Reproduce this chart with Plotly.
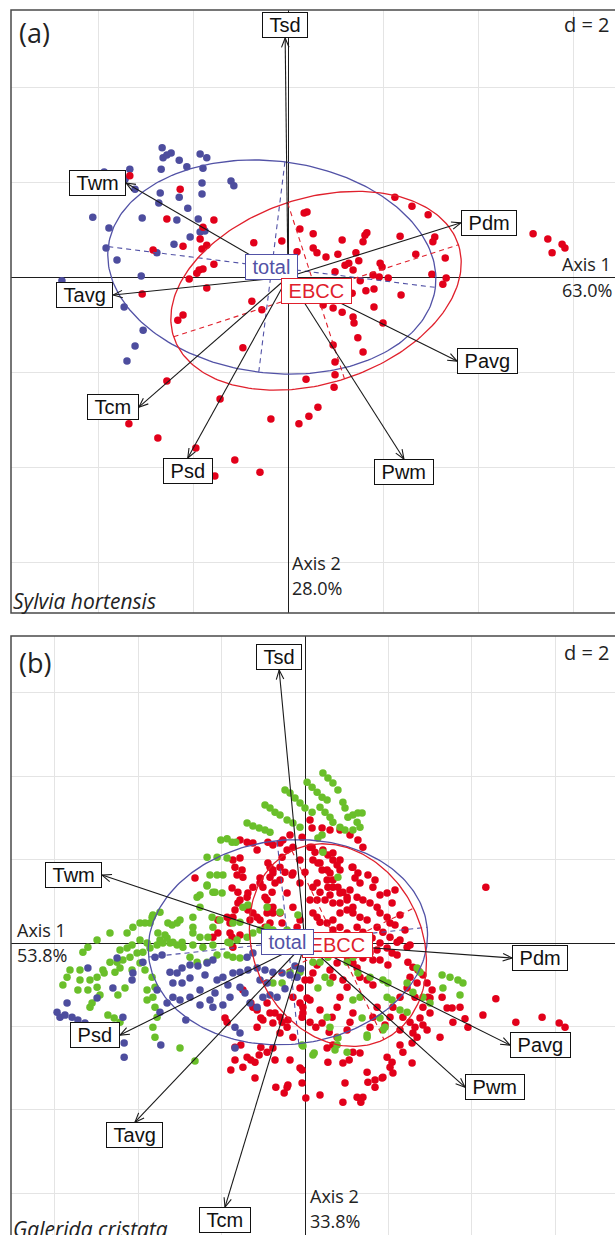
import numpy as np
import plotly.graph_objects as go

W, H = 615, 1235

# ---------------- DATA ----------------
VARIABLES = ["Tsd", "Twm", "Tavg", "Tcm", "Psd", "Pwm", "Pavg", "Pdm"]

# panel (a) Sylvia hortensis : arrow tips (Axis1, Axis2)
A_ARROW_X = [-0.06, -3.41, -3.68, -3.14, -2.11, 2.44, 3.56, 3.64]
A_ARROW_Y = [5.03, 1.98, -0.38, -2.74, -3.81, -3.83, -1.77, 1.14]
# panel (b) Galerida cristata
B_ARROW_X = [-0.62, -4.87, -4.08, -1.92, -4.44, 3.84, 4.92, 4.97]
B_ARROW_Y = [6.55, 1.63, -4.30, -6.34, -2.21, -3.46, -2.45, -0.36]

CLASSES = ["total", "EBCC"]
A_ELL_CX = [-0.34, 0.59]
A_ELL_CY = [0.21, -0.29]
A_ELL_A = [3.47, 3.15]
A_ELL_B = [2.23, 1.95]
A_ELL_ANGLE = [-7.1, 17.9]
B_ELL_CX = [-0.41, 0.79]
B_ELL_CY = [0.02, -0.05]
B_ELL_A = [3.36, 2.52]
B_ELL_B = [2.45, 2.02]
B_ELL_ANGLE = [6.1, -64.0]

A_INERTIA = ["63.0%", "28.0%"]
B_INERTIA = ["53.8%", "33.8%"]
SPECIES = ["Sylvia hortensis", "Galerida cristata"]

A_BLUE = [(-2.65,2.72),(-2.63,2.51),(-2.55,2.57),(-2.46,2.61),(-2.29,2.46),(-1.85,2.59),(-1.71,2.51),
          (-2.67,2.27),(-2.13,2.32),(-1.79,2.29),(-3.33,2.27),(-3.87,2.21),(-3.43,2.06),(-3.22,1.85),
          (-1.81,1.98),(-1.20,2.02),(-1.14,1.92),(-2.69,1.77),(-2.29,1.68),(-1.81,1.75),(-2.72,1.56),
          (-2.11,1.45),(-4.11,1.26),(-3.07,1.24),(-2.34,1.20),(-1.89,1.22),(-3.77,1.03),(-1.85,0.95),
          (-1.75,0.97),(-2.06,0.84),(-2.40,0.69),(-3.83,0.61),(-2.76,0.51),(-3.60,0.36),(-3.09,0.02),
          (-4.76,-0.08),(-3.45,-0.63),(-3.05,-1.12),(-3.22,-1.45),(-3.39,-1.77)]

A_RED = [(-3.33,2.13),(-2.27,1.85),(-2.55,1.22),(-1.56,1.20),(-1.79,1.05),(-1.85,0.80),(-2.21,0.65),
         (-1.71,0.67),(-2.84,0.57),(-1.81,0.59),(-0.72,0.72),(-0.13,0.76),(-1.56,0.27),(-1.87,0.15),
         (-1.92,0.08),(-1.79,0.17),(-2.08,-0.04),(-1.71,-0.23),(-3.07,-0.36),(0.34,1.35),(0.40,1.37),
         (0.25,1.01),(0.19,0.53),(0.53,0.91),(1.14,0.78),(1.62,0.88),(1.66,0.93),(1.58,0.74),(0.53,0.61),
         (0.61,0.51),(0.80,0.42),(1.05,0.48),(1.43,0.51),(1.20,0.25),(1.28,0.29),(1.49,0.34),(1.37,0.15),
         (0.99,0.11),(1.94,0.29),(1.98,0.21),(2.25,1.68),(2.61,1.49),(2.95,1.31),(2.36,0.86),(3.09,0.84),
         (3.05,0.74),(2.69,0.48),(3.31,0.40),(1.79,0.04),(1.92,0.0),(2.11,-0.02),(1.52,-0.08),(1.64,-0.29),
         (1.81,-0.25),(3.03,0.06),(3.33,-0.02),(3.26,-0.15),(2.38,-0.38),(1.35,-0.34),(0.74,-0.59),
         (0.95,-0.65),(1.14,-0.74),(1.37,-0.84),(1.39,-0.97),(1.81,-0.63),(2.0,-0.97),(1.47,-1.28),
         (1.58,-1.58),(0.95,-1.43),(-0.76,-0.51),(-0.55,-0.69),(-2.21,-0.80),(-2.32,-0.91),(-0.95,-1.49),
         (4.0,1.12),(5.16,0.91),(5.47,0.80),(5.77,0.69),(5.83,0.61),(5.56,0.51),(-2.55,-2.19),(-1.43,-2.57),
         (-3.35,-3.09),(-2.74,-3.39),(-1.94,-3.60),(-2.11,-4.04),(-1.54,-4.19),(-1.12,-3.85),(-0.59,-4.11),
         (-0.36,-2.99),(0.23,-3.09),(0.44,-2.93),(0.63,-2.74),(0.38,-2.15),(0.99,-1.79),(0.99,-2.06),
         (0.97,-2.32)]

B_GREEN = [(-2.02,2.47),(-1.87,2.50),(-1.75,2.42),(-1.66,2.42),(-1.39,2.88),(-1.25,2.81),(-1.10,2.76),
           (-0.96,2.71),(-0.84,2.66),(-0.96,3.31),(-0.84,3.24),(-0.72,3.14),(-0.60,3.07),(-0.43,2.95),
           (-0.29,2.88),(-0.12,2.78),(-0.48,3.67),(-0.36,3.60),(-0.24,3.48),(-0.12,3.36),(0.0,3.24),
           (0.17,3.14),(0.05,3.86),(0.17,3.74),(0.29,3.62),(0.41,3.50),(0.53,3.43),(0.43,4.08),(0.55,3.96),
           (0.67,3.84),(0.79,3.67),(0.91,3.38),(0.96,3.24),(0.36,3.26),(0.48,3.14),(0.60,3.02),(0.67,2.90),
           (0.84,2.78),(1.03,3.02),(1.15,3.07),(1.27,3.12),(1.37,3.12),(1.25,2.90),(1.32,2.78),(1.15,2.71),
           (0.96,2.71),(0.31,2.52),(0.43,2.18),(0.79,1.58),(0.41,2.59),
           (-2.35,1.37),(-2.21,1.22),(-1.99,1.20),(-2.52,1.15),(-1.37,0.91),(-2.52,0.86),(-2.23,0.62),
           (-2.04,0.55),(-3.48,0.74),(-3.65,0.67),(-3.72,0.48),(-3.29,0.48),(-3.07,0.48),(-3.0,0.55),
           (-2.69,0.38),(-3.96,0.48),(-4.13,0.38),(-4.27,0.24),(-4.68,0.24),(-4.99,0.07),(-5.21,-0.10),
           (-5.33,-0.22),(-5.64,-0.65),(-5.40,-0.65),(-5.81,-1.01),(-5.40,-0.89),(-5.16,-0.89),(-4.99,-0.82),
           (-4.85,-0.65),(-4.68,-0.46),(-4.51,-0.46),(-4.37,-0.41),(-4.56,-0.70),(-4.44,-0.60),(-4.20,-0.34),
           (-4.03,-0.24),(-3.89,-0.22),(-3.72,-0.12),(-3.55,-0.05),(-3.41,0.0),(-3.24,0.0),(-3.07,-0.05),
           (-2.93,-0.10),(-3.48,0.07),(-3.31,0.12),(-3.17,0.02),(-2.95,0.02),(-3.96,0.07),(-3.79,0.0),
           (-4.15,-0.05),(-4.27,-0.12),(-4.44,-0.17),(-3.96,-0.48),(-4.15,-0.65),(-3.84,-0.65),(-4.99,-1.06),
           (-4.92,-1.25),(-5.21,-1.13),(-5.45,-1.13),(-5.71,-0.82),(-2.69,-0.05),(-2.45,-0.10),(-2.21,-0.05),
           (-2.52,0.14),(-2.33,0.14),(-2.76,-0.34),(-2.59,-0.46),(-2.35,-0.46),(-2.11,-0.29),(-1.87,-0.29),
           (-1.73,-0.34),(-1.56,-0.36),(-1.80,0.0),(-1.63,0.07),(-1.39,0.14),(-1.25,0.24),(-1.08,0.31),
           (-0.91,0.38),(-1.73,0.48),(-1.56,0.50),(-3.67,-0.82),(-3.60,-1.06),(-3.65,-1.30),(-3.60,-1.54),
           (-3.55,-1.78),(-3.65,-2.02),(-3.60,-2.26),(-3.79,-1.13),(-3.79,-1.37),(-5.16,-1.54),(-5.11,-1.44),
           (-4.82,-0.72),(-4.49,-1.25),(-4.32,-1.08),(-4.73,-1.73),(-4.58,-1.80),(-4.44,-1.90),(-3.0,-2.52),
           (-2.64,-2.83),(-2.59,1.10),(-2.35,1.39),(-2.28,1.63),(-2.11,1.63),(-1.97,1.63),(-2.16,1.22),
           (-2.69,0.62),(-1.49,0.86),(-0.91,0.86),(-0.60,0.74),(-0.17,0.67),(-2.35,2.06),(-2.11,2.06),
           (-1.87,2.04),(-3.19,0.43),(-3.67,0.62),(-3.84,0.48),(-3.53,0.24),(-3.36,0.19),(-2.69,0.24),
           (-2.21,0.38),(-1.85,0.02),(-0.43,0.31),(-0.77,0.31),
           (0.19,-0.46),(0.36,-0.46),(0.48,-0.82),(0.60,-0.96),(0.31,-1.08),(0.53,-1.78),(0.60,-2.02),
           (0.79,-2.28),(0.77,-2.45),(0.19,-2.69),(-0.05,-2.47),(1.15,-1.37),(1.32,-1.30),(1.37,-1.80),
           (1.49,-2.21),(1.87,-2.09),(1.92,-2.02),(1.80,-1.80),(1.97,-1.30),(2.09,-1.37),(1.87,-0.89),
           (1.99,-0.96),(2.45,-0.96),(2.59,-1.18),(2.28,-1.61),(2.45,-1.66),(2.83,-1.30),(3.0,-1.44),
           (3.29,-0.77),(3.48,-0.82),(3.67,-0.89),(3.79,-0.96),(3.72,-1.25),(3.31,-1.08),(1.27,-0.72),
           (1.56,-0.82),(1.01,-0.46),(1.15,-0.34),(0.77,-0.24),(0.55,-0.34),(-0.12,-0.70),(-0.36,-0.70),
           (-0.55,-0.96),(-0.77,-0.96),(-0.07,-2.45),(0.22,-2.64),(0.72,-2.57),(1.01,-2.62),(1.49,-2.26),
           (2.69,-0.60),(2.76,-0.70)]

B_BLUE = [(-5.21,-0.60),(-4.51,-0.36),(-4.13,-0.72),(-4.15,-0.89),(-3.89,-0.46),(-3.60,-0.34),(-3.43,-0.29),
          (-3.24,-0.70),(-3.07,-0.72),(-2.95,-0.60),(-2.76,-0.53),(-2.57,-0.55),(-2.35,-0.48),(-2.21,-0.41),
          (-3.17,-0.96),(-2.95,-0.96),(-2.76,-0.84),(-2.52,-1.13),(-2.16,-1.20),(-1.80,-1.30),(-2.11,-0.89),
          (-1.97,-0.82),(-1.73,-0.72),(-1.56,-0.70),(-1.37,-0.65),(-1.15,-0.60),(-0.96,-0.65),(-0.77,-0.70),
          (-0.55,-0.72),(-0.36,-0.77),(-0.19,-0.82),(-1.39,-0.34),(-1.25,-0.24),(-1.08,-0.89),(-0.91,-0.96),
          (-1.56,-1.06),(-3.17,-1.30),(-3.55,-1.13),(-3.48,-1.66),(-3.31,-1.44),(-3.0,-1.37),(-2.76,-1.30),
          (-2.52,-1.49),(-2.21,-1.54),(-1.97,-1.49),(-1.32,-1.44),(-1.15,-1.54),(-1.01,-1.30),(-0.84,-1.25),
          (-0.67,-1.30),(-4.61,-1.08),(-4.99,-1.32),(-5.71,-1.44),(-5.88,-1.78),(-5.76,-1.73),(-5.59,-1.78),
          (-5.45,-1.85),(-5.28,-1.92),(-5.16,-2.02),(-5.06,-2.04),(-4.37,-1.78),(-1.68,-2.02),(-1.56,-2.16),
          (-4.34,-2.40),(-4.34,-2.74),(-3.46,-2.45),(-2.86,-1.85),(-1.68,-2.52),(-2.40,-0.77),(-1.85,-1.01),
          (-1.44,-1.20),(-2.28,-1.37),(-5.95,-1.66),(-0.24,-0.55),(-0.10,-0.62),(-0.48,-1.10)]

B_RED = [(-1.56,2.47),(-1.39,2.42),(-1.25,2.40),(-1.15,2.23),(-1.73,1.99),(-1.56,2.04),(-1.68,1.82),
         (-1.51,1.75),(-1.63,1.63),(-1.49,1.58),(-1.75,1.32),(-1.61,1.22),(-1.56,1.03),(-1.39,1.10),
         (-1.37,0.79),(-1.08,1.56),(-1.01,1.34),(-0.89,1.92),(-0.77,1.75),(-0.84,1.58),(-0.72,1.44),
         (-0.79,1.22),(-0.55,2.06),(-0.43,2.23),(-0.29,2.30),(-0.60,1.82),(-0.48,1.70),(-0.31,1.63),
         (-0.91,1.03),(-0.77,0.86),(-0.60,0.72),(-1.15,0.62),(-1.32,0.55),(-1.87,0.62),(-2.64,1.56),
         (-2.09,0.55),(-2.09,0.24),(-2.21,0.14),(-1.75,0.14),(-1.56,0.19),(-0.96,0.38),(-0.55,0.48),
         (-0.29,0.86),(-0.12,0.55),(-0.19,0.38),(-0.89,2.42),(-0.77,2.35),(-0.60,2.40),(0.12,2.30),
         (0.24,2.18),(-0.12,1.99),(0.0,1.70),(0.19,1.99),(0.36,1.92),(0.53,1.75),(0.67,2.16),(0.19,1.34),
         (0.29,1.03),(0.53,1.51),(0.67,1.34),(0.84,1.20),(1.01,1.03),(1.15,0.86),(0.67,0.96),(0.84,0.72),
         (0.29,0.62),(0.53,0.48),(0.67,0.31),(1.15,1.82),(1.27,1.68),(0.84,1.99),(0.0,0.24),(0.19,0.12),
         (0.12,2.95),(0.17,2.76),(0.41,2.76),(0.60,2.71),(0.84,2.71),(1.08,2.59),(1.27,2.47),(1.39,2.30),
         (-0.07,2.54),(-0.36,2.59),(-0.53,2.47),(0.17,2.30),(0.43,2.23),(0.55,2.11),(0.67,1.99),(0.77,1.87),
         (0.84,1.75),(0.31,1.92),(0.41,1.75),(0.60,1.68),(0.67,1.51),(0.79,1.34),(0.91,1.22),(1.01,1.10),
         (0.55,1.34),(0.60,1.15),(0.48,1.03),(0.29,1.44),(0.36,1.22),(1.13,1.82),(1.20,1.56),(1.32,1.44),
         (1.08,1.27),(1.25,1.10),(1.39,1.03),(1.56,0.96),(1.73,0.86),(1.63,1.34),(1.97,1.20),(2.09,0.96),
         (0.84,0.96),(1.01,0.79),(1.15,0.72),(1.32,0.62),(1.49,0.55),(1.80,0.72),(1.97,0.62),(2.04,0.48),
         (1.73,0.38),(1.87,0.26),(2.04,0.14),(2.21,0.02),(0.67,0.55),(0.84,0.38),(1.01,0.24),(1.25,0.38),
         (1.39,0.26),(0.12,1.03),(0.19,0.72),(0.36,0.50),(-0.29,1.68),(-0.12,1.44),(-0.60,1.51),(-0.43,1.20),
         (-0.84,1.82),(-0.77,1.68),(-1.08,1.44),(-0.96,1.10),(-0.89,0.86),(-0.77,0.72),(1.80,0.0),
         (1.97,-0.12),(2.09,-0.24),(2.28,0.07),(2.45,-0.10),(2.21,-0.29),(1.73,-0.17),(1.56,-0.24),
         (1.63,-0.41),(1.32,-0.10),(1.39,-0.36),(2.47,-0.46),(2.59,-0.58),(2.71,-0.65),(2.83,-0.77),
         (2.52,-0.82),(2.69,-0.96),(2.93,-0.96),(3.05,-1.13),(2.95,-1.30),(2.45,-1.08),(2.28,-1.30),
         (2.11,-1.54),(2.04,-1.78),(1.92,-1.97),(1.73,-1.54),(1.63,-1.78),(1.56,-2.02),(1.15,-1.68),
         (1.08,-1.90),(1.01,-2.09),(0.84,-1.30),(0.77,-1.54),(0.65,-1.78),(1.01,-1.06),(0.91,-0.89),
         (1.32,-0.82),(1.49,-0.89),(1.63,-1.01),(1.15,-0.48),(1.25,-0.60),(0.60,-0.65),(0.67,-0.82),
         (0.77,-0.48),(0.29,-0.53),(0.19,-0.72),(0.12,-0.89),(-0.12,-1.08),(0.05,-1.32),(-0.05,-1.54),
         (-0.07,-1.78),(0.36,-1.61),(0.41,-1.92),(2.35,-1.78),(2.52,-1.90),(2.64,-2.02),(2.59,-2.16),
         (2.76,-1.80),(2.83,-1.97),(2.69,-2.26),(2.57,-2.40),(2.93,-2.09),(3.24,-2.26),(2.28,-2.45),
         (2.35,-2.62),(1.97,-2.74),(2.09,-2.86),(2.04,-2.98),(2.11,-3.12),(1.87,-3.22),(1.68,-3.29),
         (1.49,-3.10),(1.51,-3.34),(1.25,-3.70),(1.39,-3.70),(0.96,-3.36),(0.91,-2.88),(1.15,-2.62),
         (1.32,-2.64),(0.53,-2.52),(0.55,-2.86),(0.77,-2.26),(-0.36,-2.81),(-0.43,-3.46),(-0.12,-3.0),
         (-0.07,-3.36),(-0.77,-2.52),(0.36,-3.65),(3.0,-1.32),(3.29,-1.30),(3.41,-1.56),(3.53,-1.56),
         (3.55,-1.90),(3.84,-1.82),(3.91,-2.02),(3.72,-1.54),(4.27,-1.73),(4.58,-1.34),(5.06,-1.90),
         (5.69,-1.78),(6.10,-1.92),(6.24,-2.02),(2.83,-1.54),(3.0,-1.68),(2.64,-1.30),(-1.92,-1.80),
         (-1.87,-1.90),(-1.68,-2.50),(-1.54,-2.45),(-1.39,-2.74),(-1.30,-2.81),(-1.10,-2.69),(-0.91,-2.62),
         (-1.06,-2.50),(-1.78,-3.05),(-1.49,-2.98),(-1.20,-2.86),(-1.68,-2.81),(-1.15,-1.61),(-1.06,-1.80),
         (-1.30,-1.44),(-0.72,-1.68),(-0.60,-1.78),(-0.55,-1.90),(-0.41,-1.85),(-1.20,-3.24),(-0.72,-2.81),
         (-0.70,-3.46),(-0.41,-3.41),(-0.50,-3.60),(-0.07,-3.05),(0.02,-3.72),(0.91,-3.82),(1.34,-3.82),
         (1.68,-3.46),(1.85,-3.24),(1.06,-2.81),(0.58,-2.14),(0.67,-2.45),(0.12,-1.90),(0.26,-2.02),
         (2.57,-2.88),(2.28,-2.09),(-1.80,0.48),(-1.73,0.62),(-1.68,0.79),(-1.61,0.96),(-1.37,1.20),
         (-1.25,1.34),(-1.25,0.72),(-1.08,0.55),(-0.91,0.72),(-0.84,0.48),(-1.73,-0.10),(-1.80,0.24),
         (-1.49,-1.13),(-1.25,-1.54),(-0.91,-1.44),(-0.84,-1.68),(-1.01,-1.85),(-1.15,-2.02),(-0.77,-1.92),
         (-0.60,-2.16),(-0.43,-2.02),(-0.29,-1.30),(-0.12,-1.44),(-0.05,-1.68),(0.12,-1.37),(0.0,-0.89),
         (-0.29,-2.26),(4.34,1.34),(0.96,0.07),(1.13,-0.05),(1.44,-0.05),(1.61,0.12),(1.20,-0.29),
         (1.03,-0.41),(1.80,-0.41),(1.99,-0.53),(2.16,0.43),(2.28,0.67),(2.40,0.31),(2.52,-0.05),
         (1.80,1.15),(2.16,1.27),(1.51,1.63),(1.68,1.51)]

# ---------------- STYLE ----------------
RED = "#e2001a"
BLUE = "#4d4d9e"
GREEN = "#6abf2a"
ELL_BLUE = "#5252a6"
ELL_RED = "#e0202c"
CLASS_COL = {"total": ELL_BLUE, "EBCC": ELL_RED}
BOXFONT = "Liberation Sans, Arial, sans-serif"
TXTFONT = "Open Sans, DejaVu Sans, sans-serif"

def px(x, y):
    return x / W, 1 - y / H

fig = go.Figure()

pa_top, pa_bot = 10, 613
pb_top, pb_bot = 636, 1235
left_px = 11
axis_common = dict(showgrid=True, gridcolor="#e4e4e4", gridwidth=1, dtick=2, tick0=0,
                   zeroline=True, zerolinecolor="#1e1e1e", zerolinewidth=1,
                   showticklabels=False, ticks="", showline=False, fixedrange=True)
sa, sb = 47.5, 41.67          # pixels per unit
oa = (288, 277)               # origin pixel of panel a
ob = (305, 943)
fig.update_layout(
    xaxis=dict(domain=[left_px / W, 1], range=[(left_px - oa[0]) / sa, (W - oa[0]) / sa], **axis_common),
    yaxis=dict(domain=[1 - pa_bot / H, 1 - pa_top / H], range=[(oa[1] - pa_bot) / sa, (oa[1] - pa_top) / sa], **axis_common),
    xaxis2=dict(domain=[left_px / W, 1], range=[(left_px - ob[0]) / sb, (W - ob[0]) / sb], anchor="y2", **axis_common),
    yaxis2=dict(domain=[0, 1 - pb_top / H], range=[(ob[1] - pb_bot) / sb, (ob[1] - pb_top) / sb], anchor="x2", **axis_common),
)

def pts(lst):
    return [p[0] for p in lst], [p[1] for p in lst]

def add_points(lst, color, xa, ya):
    xs, ys = pts(lst)
    fig.add_trace(go.Scatter(x=xs, y=ys, mode="markers", xaxis=xa, yaxis=ya,
                             marker=dict(size=7.5, color=color, line=dict(width=0)),
                             hoverinfo="skip"))

def add_ellipses(cx, cy, a, b, ang, xa, ya):
    t = np.linspace(0, 2 * np.pi, 241)
    for i, name in enumerate(CLASSES):
        th = np.deg2rad(ang[i])
        c, s = np.cos(th), np.sin(th)
        ex = cx[i] + a[i] * np.cos(t) * c - b[i] * np.sin(t) * s
        ey = cy[i] + a[i] * np.cos(t) * s + b[i] * np.sin(t) * c
        col = CLASS_COL[name]
        fig.add_trace(go.Scatter(x=ex, y=ey, mode="lines", xaxis=xa, yaxis=ya,
                                 line=dict(color=col, width=1.3), hoverinfo="skip"))
        ax_x = [cx[i] - a[i] * c, cx[i] + a[i] * c, None, cx[i] + b[i] * s, cx[i] - b[i] * s]
        ax_y = [cy[i] - a[i] * s, cy[i] + a[i] * s, None, cy[i] - b[i] * c, cy[i] + b[i] * c]
        fig.add_trace(go.Scatter(x=ax_x, y=ax_y, mode="lines", xaxis=xa, yaxis=ya,
                                 line=dict(color=col, width=1.1, dash="5px,4px"), hoverinfo="skip"))

def add_arrows(xs, ys, scale, xa, ya):
    X, Y = [], []
    L = 10.0 / scale
    d = np.deg2rad(22)
    for x, y in zip(xs, ys):
        X += [0, x, None]
        Y += [0, y, None]
        th = np.arctan2(y, x)
        X += [x - L * np.cos(th - d), x, x - L * np.cos(th + d), None]
        Y += [y - L * np.sin(th - d), y, y - L * np.sin(th + d), None]
    fig.add_trace(go.Scatter(x=X, y=Y, mode="lines", xaxis=xa, yaxis=ya,
                             line=dict(color="#1a1a1a", width=1.1), hoverinfo="skip"))

anns = []

def add_var_labels(xs, ys, xr, yr):
    for name, x, y in zip(VARIABLES, xs, ys):
        if abs(x) >= abs(y):
            xan, yan = ("left" if x > 0 else "right"), "middle"
        else:
            xan, yan = "center", ("bottom" if y > 0 else "top")
        anns.append(dict(x=x, y=y, xref=xr, yref=yr, text="\u00a0" + name + "\u00a0", showarrow=False,
                         xanchor=xan, yanchor=yan, bgcolor="white", bordercolor="#111",
                         borderwidth=1, borderpad=1, font=dict(family=BOXFONT, size=20, color="#111")))

def add_class_labels(cx, cy, xr, yr, order):
    for i in order:
        name = CLASSES[i]
        col = CLASS_COL[name]
        anns.append(dict(x=cx[i], y=cy[i], xref=xr, yref=yr, text="\u00a0" + name + "\u00a0",
                         showarrow=False, xanchor="center", yanchor="middle", bgcolor="white",
                         bordercolor=col, borderwidth=1, borderpad=1,
                         font=dict(family=BOXFONT, size=20, color=col)))

# panel (a)
add_points(A_BLUE, BLUE, "x", "y")
add_points(A_RED, RED, "x", "y")
add_ellipses(A_ELL_CX, A_ELL_CY, A_ELL_A, A_ELL_B, A_ELL_ANGLE, "x", "y")
add_arrows(A_ARROW_X, A_ARROW_Y, sa, "x", "y")
add_var_labels(A_ARROW_X, A_ARROW_Y, "x", "y")
add_class_labels(A_ELL_CX, A_ELL_CY, "x", "y", [0, 1])

# panel (b)
add_points(B_RED, RED, "x2", "y2")
add_points(B_GREEN, GREEN, "x2", "y2")
add_points(B_BLUE, BLUE, "x2", "y2")
add_ellipses(B_ELL_CX, B_ELL_CY, B_ELL_A, B_ELL_B, B_ELL_ANGLE, "x2", "y2")
add_arrows(B_ARROW_X, B_ARROW_Y, sb, "x2", "y2")
add_var_labels(B_ARROW_X, B_ARROW_Y, "x2", "y2")
add_class_labels(B_ELL_CX, B_ELL_CY, "x2", "y2", [1, 0])

def txt(text, x, y, xan="left", yan="middle", size=18, italic=False):
    X, Y = px(x, y)
    anns.append(dict(x=X, y=Y, xref="paper", yref="paper", text=text, showarrow=False,
                     xanchor=xan, yanchor=yan, borderpad=0,
                     font=dict(family=TXTFONT, size=size, color="#222",
                               style="italic" if italic else "normal")))

# panel (a) texts
txt("(a)", 18, 33, size=27)
txt("d = 2", 611, 25, xan="right", size=20)
txt("Axis 1", 561, 264)
txt(A_INERTIA[0], 561, 290)
txt("Axis 2", 291, 563)
txt(A_INERTIA[1], 291, 588)
txt(SPECIES[0], 12, 601, size=21, italic=True)
# panel (b) texts
txt("(b)", 18, 662, size=27)
txt("d = 2", 611, 652, xan="right", size=20)
txt("Axis 1", 16, 930)
txt(B_INERTIA[0], 16, 955)
txt("Axis 2", 309, 1196)
txt(B_INERTIA[1], 309, 1221)
txt(SPECIES[1], 12, 1229, size=21, italic=True)

shapes = []
for top, bot in [(pa_top, pa_bot), (pb_top, pb_bot + 20)]:
    x0, y0 = px(left_px, bot)
    x1, y1 = px(W + 20, top)
    shapes.append(dict(type="rect", xref="paper", yref="paper", x0=x0, x1=x1, y0=y0, y1=y1,
                       line=dict(color="#4a4a4a", width=1.5), fillcolor="rgba(0,0,0,0)", layer="above"))

fig.update_layout(width=W, height=H, margin=dict(l=0, r=0, t=0, b=0),
                  paper_bgcolor="white", plot_bgcolor="white", showlegend=False,
                  annotations=anns, shapes=shapes)

fig.write_html("out.html", config={"displayModeBar": False, "staticPlot": True},
               post_script="document.body.style.margin='0';document.body.style.padding='0';"
                           "document.documentElement.style.overflow='hidden';")
